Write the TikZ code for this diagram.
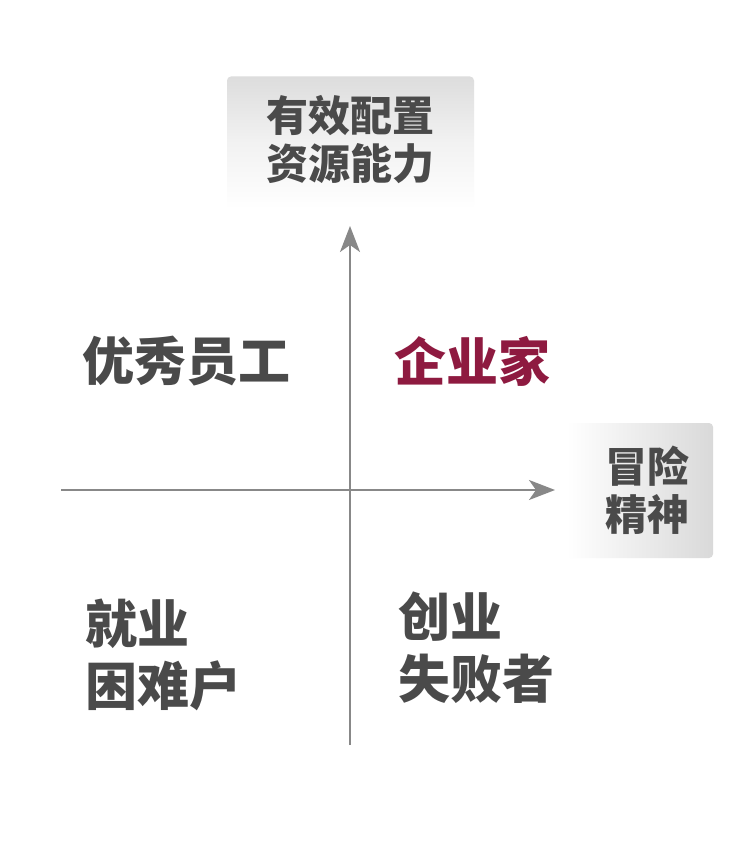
\documentclass[tikz,border=0pt]{standalone}
\usepackage{fontspec}
\newfontfamily\cjk{Noto Sans CJK SC}
\usetikzlibrary{arrows.meta}
\definecolor{txt}{HTML}{4A4A4A}
\definecolor{crim}{HTML}{8E1A40}
\definecolor{axisc}{HTML}{888888}
\definecolor{boxg}{HTML}{D9D9D9}
\begin{document}
\begin{tikzpicture}[x=1pt,y=-1pt,
  big/.style={font=\cjk\bfseries\fontsize{52}{62}\selectfont, text=txt, inner sep=0pt, align=left},
  small/.style={font=\cjk\bfseries\fontsize{42}{48}\selectfont, text=txt, inner sep=0pt, align=center},
  axisline/.style={draw=axisc, line width=2pt, -{Stealth[length=26pt,width=20pt,inset=7pt]}},
  boxshape/.style={rectangle, rounded corners=4pt, inner sep=0pt, draw=none}
]
\useasboundingbox (0,0) rectangle (750,858);
\fill[white] (0,0) rectangle (750,858);
% boxes
\node[boxshape, minimum width=247pt, minimum height=132pt, top color=boxg!90, bottom color=white, middle color=boxg!35!white] (ybox) at (350.5,142.5) {};
\node[small] (ylab) at (350,139.5) {有效配置\\资源能力};
\node[boxshape, minimum width=146pt, minimum height=135pt, left color=white, right color=boxg] (xbox) at (640,490.5) {};
\node[small] (xlab) at (647.5,490.5) {冒险\\精神};
% axes
\coordinate (vs) at (350,745);
\coordinate (vt) at (350,226);
\coordinate (hs) at (61,490);
\coordinate (ht) at (555,490);
\draw[axisline] (vs) -- (vt);
\draw[axisline] (hs) -- (ht);
% quadrant labels
\node[big] (q2) at (186,361) {优秀员工};
\node[big, text=crim] (q1) at (472,361) {企业家};
\node[big, anchor=west] (q3) at (85,654.5) {就业\\困难户};
\node[big, anchor=west] (q4) at (398,648) {创业\\失败者};
\end{tikzpicture}
\end{document}
